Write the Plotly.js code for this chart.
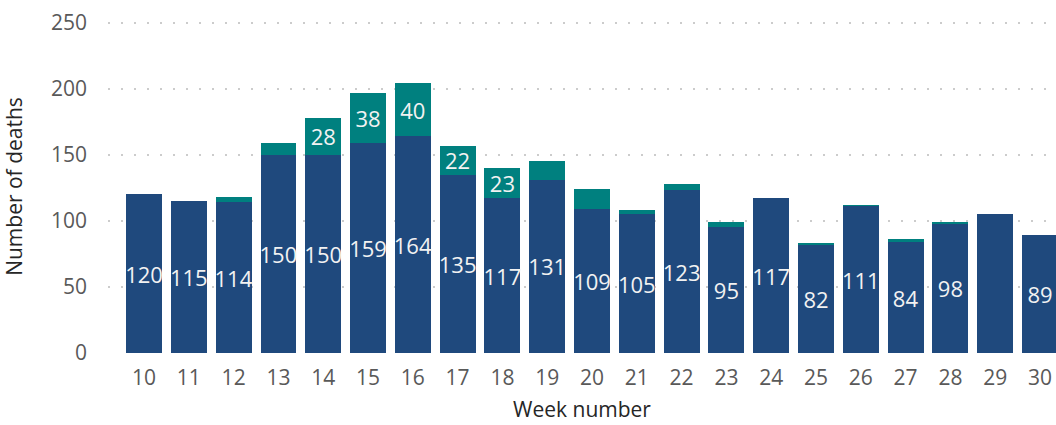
<!DOCTYPE html>
<html>
<head>
<meta charset="utf-8">
<script src="https://cdn.plot.ly/plotly-3.0.1.min.js"></script>
<style>
  html, body { margin: 0; padding: 0; background: #ffffff; }
  #chart { width: 1056px; height: 425px; }
</style>
</head>
<body>
<div id="chart"></div>
<script>
// Week numbers (categories)
var weeks = ["10","11","12","13","14","15","16","17","18","19","20","21","22","23","24","25","26","27","28","29","30"];
// Lower (dark blue) series
var baseDeaths = [120,115,114,150,150,159,164,135,117,131,109,105,123,95,117,82,111,84,98,105,89];
// Labels shown on the lower series ("" = no label shown)
var baseLabels = ["120","115","114","150","150","159","164","135","117","131","109","105","123","95","117","82","111","84","98","","89"];
// Upper (teal) series
var extraDeaths = [0,0,4,9,28,38,40,22,23,14,15,3,5,4,0,1,1,2,1,0,0];
// Labels shown on the upper series
var extraLabels = ["","","","","28","38","40","22","23","","","","","","","","","","","",""];

var labelFont = {family: "Open Sans, sans-serif", size: 22, color: "#f2f2f2"};

var traces = [
  {
    type: "bar",
    name: "Base",
    x: weeks,
    y: baseDeaths,
    text: baseLabels,
    texttemplate: "%{text}",
    textposition: "inside",
    insidetextanchor: "middle",
    textangle: 0,
    constraintext: "none",
    insidetextfont: labelFont,
    marker: {color: "#1f497d", line: {width: 0}},
    hoverinfo: "skip"
  },
  {
    type: "bar",
    name: "Extra",
    x: weeks,
    y: extraDeaths,
    text: extraLabels,
    texttemplate: "%{text}",
    textposition: "inside",
    insidetextanchor: "middle",
    textangle: 0,
    constraintext: "none",
    insidetextfont: labelFont,
    marker: {color: "#00807f", line: {width: 0}},
    hoverinfo: "skip"
  }
];

var layout = {
  width: 1056,
  height: 425,
  barmode: "stack",
  bargap: 0.2,
  showlegend: false,
  paper_bgcolor: "#ffffff",
  plot_bgcolor: "#ffffff",
  margin: {l: 108, r: 0, t: 20, b: 72, pad: 0},
  font: {family: "Open Sans, sans-serif", color: "#595959"},
  xaxis: {
    type: "category",
    range: [-0.804, 20.357],
    showgrid: false,
    zeroline: false,
    showline: false,
    ticks: "",
    ticklabelstandoff: 10,
    tickfont: {family: "Open Sans, sans-serif", size: 21, color: "#595959"},
    title: {text: "Week number", font: {family: "Open Sans, sans-serif", size: 21, color: "#262626"}, standoff: 12}
  },
  yaxis: {
    range: [0, 252],
    tickvals: [0, 50, 100, 150, 200, 250],
    showgrid: true,
    gridcolor: "#cccccc",
    gridwidth: 2,
    griddash: "2px,11px",
    zeroline: false,
    showline: false,
    ticks: "",
    ticklabelstandoff: 20,
    tickfont: {family: "Open Sans, sans-serif", size: 21, color: "#595959"},
    title: {text: "Number of deaths", font: {family: "Open Sans, sans-serif", size: 21, color: "#262626"}, standoff: 22}
  }
};

Plotly.newPlot("chart", traces, layout, {displayModeBar: false, staticPlot: true});
</script>
</body>
</html>
